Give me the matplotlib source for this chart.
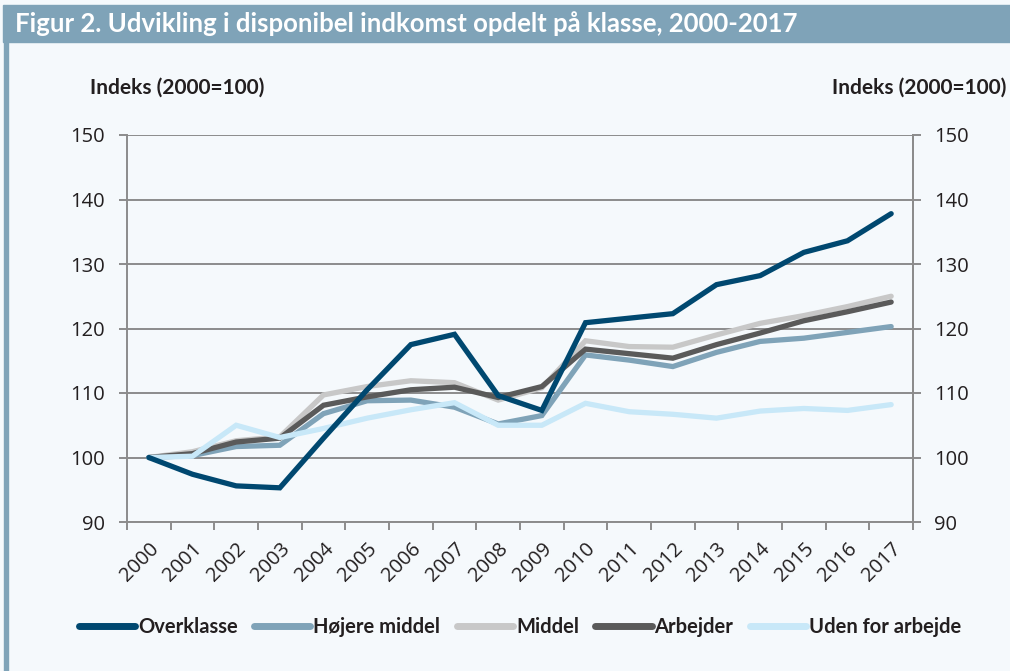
import numpy as np
import matplotlib.pyplot as plt
from matplotlib.patches import Rectangle

years = [str(y) for y in range(2000, 2018)]

overklasse = [100.0, 97.4, 95.6, 95.3, 103.0, 110.5, 117.5, 119.1, 109.6, 107.3,
              120.9, 121.6, 122.3, 126.8, 128.2, 131.8, 133.6, 137.8]
hojere_middel = [100.0, 100.3, 101.7, 101.9, 106.8, 108.8, 108.9, 107.8, 105.2, 106.5,
                 115.9, 115.1, 114.1, 116.3, 118.0, 118.5, 119.4, 120.3]
middel = [100.0, 100.9, 102.6, 103.2, 109.7, 111.0, 111.9, 111.6, 108.9, 110.8,
          118.1, 117.2, 117.1, 119.0, 120.8, 122.0, 123.4, 125.0]
arbejder = [100.0, 100.6, 102.4, 103.0, 108.1, 109.4, 110.5, 110.9, 109.3, 111.0,
            116.8, 116.1, 115.4, 117.5, 119.3, 121.2, 122.6, 124.1]
uden_for = [100.0, 100.2, 105.0, 103.1, 104.5, 106.1, 107.4, 108.5, 105.0, 105.0,
            108.4, 107.1, 106.7, 106.1, 107.2, 107.6, 107.3, 108.2]

series_names = ["Overklasse", "Højere middel", "Middel", "Arbejder", "Uden for arbejde"]
series_values = [overklasse, hojere_middel, middel, arbejder, uden_for]
series_colors = ["#004870", "#7fa3b8", "#c8c8c8", "#5a5a5a", "#c8e8f8"]
series_z = [6, 2, 3, 4, 5]

y_ticks = [90, 100, 110, 120, 130, 140, 150]

bg = "#f5f9fc"
frame_col = "#7fa3b8"
axis_col = "#8c8c8c"
text_col = "#231f20"
tick_font = ["Open Sans", "DejaVu Sans"]

plt.rcParams["font.family"] = ["Lato", "DejaVu Sans"]

fig = plt.figure(figsize=(10.10, 6.71), dpi=100, facecolor=bg)

# title bar and left frame line
fig.patches.append(Rectangle((3 / 1010, 1 - 42 / 671), 1, 37 / 671,
                             transform=fig.transFigure, color=frame_col, zorder=0))
fig.patches.append(Rectangle((4 / 1010, 0), 4 / 1010, 1 - 42 / 671,
                             transform=fig.transFigure, color=frame_col, zorder=0))
fig.text(15 / 1010, 1 - 24 / 671,
         "Figur 2. Udvikling i disponibel indkomst opdelt på klasse, 2000-2017",
         color="white", fontsize=18.5, fontweight="bold", va="center", ha="left")

ax = fig.add_axes([127 / 1010, 1 - 522 / 671, 786 / 1010, 387 / 671])
ax.set_facecolor(bg)

x = np.arange(len(years))
handles = []
for name, vals, col, z in zip(series_names, series_values, series_colors, series_z):
    ln, = ax.plot(x, vals, color=col, lw=3.8, zorder=z, label=name,
                  solid_capstyle="round", solid_joinstyle="miter")
    handles.append(ln)

ax.set_xlim(-0.5, len(years) - 0.5)
ax.set_ylim(90, 150)
ax.set_yticks(y_ticks)
ax.yaxis.grid(True, color=axis_col, lw=1.4, zorder=1)
ax.set_axisbelow(True)

ax.set_xticks(x)
ax.set_xticklabels(years, rotation=45, ha="right", rotation_mode="anchor",
                   fontsize=14.5, color=text_col, family=tick_font)
ax.set_xticks(np.arange(-0.5, len(years)), minor=True)
ax.tick_params(axis="x", which="major", length=0, pad=12)
ax.tick_params(axis="x", which="minor", length=6, width=1.4, color=axis_col, direction="out")

ax.tick_params(axis="y", which="major", length=6, width=1.4, color=axis_col,
               labelsize=14.5, labelcolor=text_col, pad=10)
for lab in ax.get_yticklabels():
    lab.set_family(tick_font)

ax.spines["top"].set_visible(False)
for side in ["left", "right", "bottom"]:
    ax.spines[side].set_color(axis_col)
    ax.spines[side].set_linewidth(1.4)

ax2 = ax.twinx()
ax2.set_ylim(90, 150)
ax2.set_yticks(y_ticks)
ax2.tick_params(axis="y", length=6, width=1.4, color=axis_col,
                labelsize=14.5, labelcolor=text_col, pad=9)
for lab in ax2.get_yticklabels():
    lab.set_family(tick_font)
for side in ["top", "left", "bottom"]:
    ax2.spines[side].set_visible(False)
ax2.spines["right"].set_color(axis_col)
ax2.spines["right"].set_linewidth(1.4)

fig.text(90 / 1010, 1 - 88 / 671, "Indeks (2000=100)", fontsize=15,
         fontweight="bold", color=text_col, va="center", ha="left")
fig.text(1006 / 1010, 1 - 88 / 671, "Indeks (2000=100)", fontsize=15,
         fontweight="bold", color=text_col, va="center", ha="right")

leg = fig.legend(handles=handles, loc="center", bbox_to_anchor=(520 / 1010, 1 - 627 / 671),
                 ncol=5, frameon=False, fontsize=14.5, handlelength=2.8,
                 handletextpad=0.15, columnspacing=0.8)
for t in leg.get_texts():
    t.set_fontweight("bold")
    t.set_color(text_col)
for ln in leg.get_lines():
    ln.set_linewidth(5)

fig.savefig("out.png", dpi=100, facecolor=bg)
